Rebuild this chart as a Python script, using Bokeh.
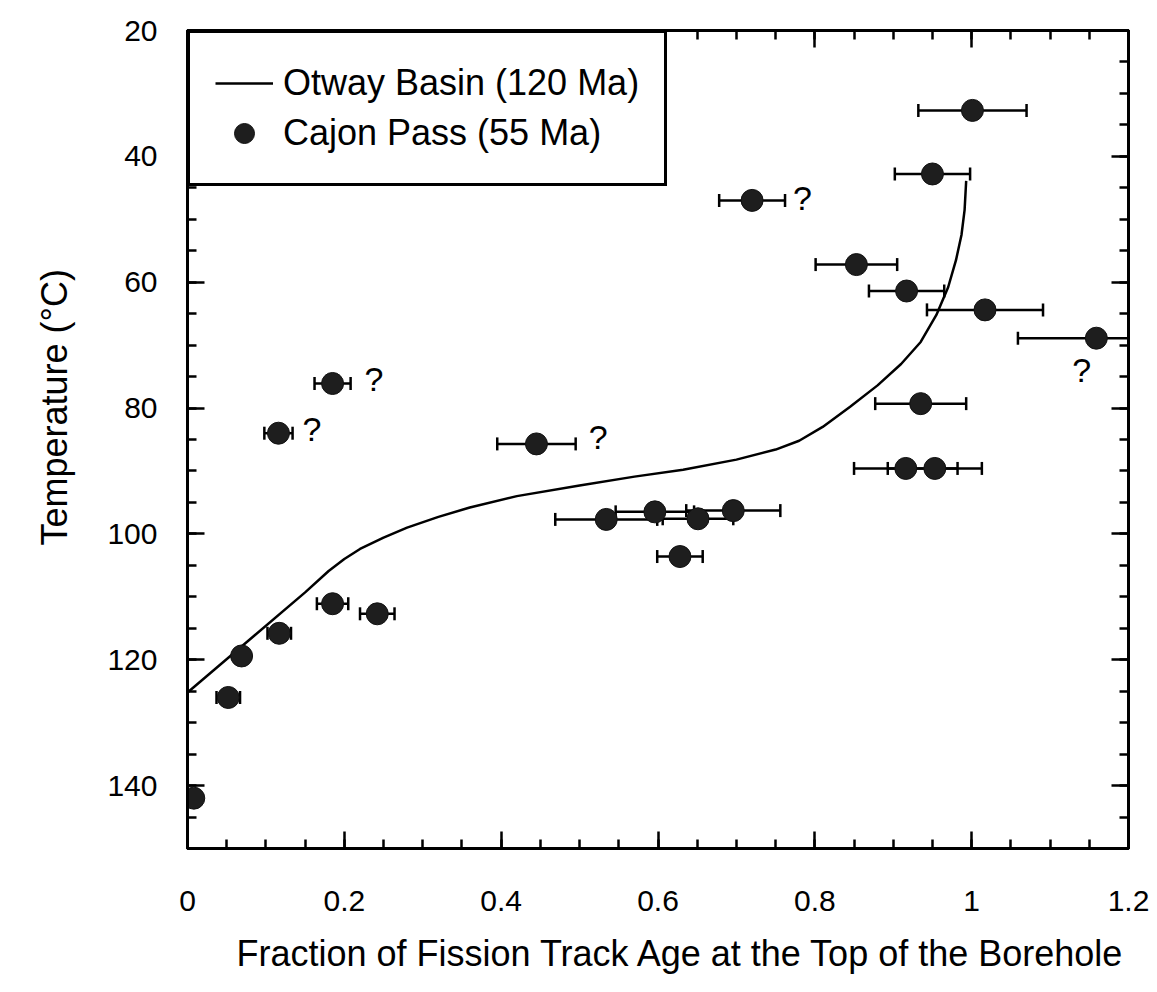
from bokeh.plotting import figure
from bokeh.models import (Range1d, LinearAxis, FixedTicker, Legend, LegendItem,
                          Title, CustomJSTickFormatter)
from bokeh.embed import file_html
from bokeh.resources import INLINE
from bokeh.core.properties import value

# ---------------- data ----------------
# Otway Basin (120 Ma) model curve
otway_frac = [0.0, 0.085, 0.15, 0.18, 0.20, 0.22, 0.25, 0.28, 0.32, 0.36, 0.42, 0.50,
              0.57, 0.632, 0.70, 0.75, 0.78, 0.81, 0.845, 0.88, 0.91, 0.935, 0.955,
              0.97, 0.98, 0.987, 0.991, 0.993]
otway_temp = [125.2, 116.2, 109.3, 105.9, 104.0, 102.4, 100.6, 99.0, 97.3, 95.8, 94.0,
              92.3, 90.9, 89.8, 88.2, 86.6, 85.2, 83.0, 79.8, 76.4, 73.0, 69.5, 65.2,
              60.8, 56.5, 52.5, 48.5, 43.9]

# Cajon Pass (55 Ma) samples
cajon_frac = [1.001, 0.950, 0.720, 0.853, 0.917, 1.017, 1.159, 0.185, 0.935, 0.116,
              0.445, 0.916, 0.953, 0.596, 0.696, 0.534, 0.651, 0.628, 0.185, 0.242,
              0.117, 0.069, 0.052, 0.008]
cajon_temp = [32.7, 42.8, 47.0, 57.2, 61.4, 64.4, 68.9, 76.1, 79.3, 84.0,
              85.7, 89.6, 89.6, 96.5, 96.3, 97.7, 97.6, 103.6, 111.1, 112.7,
              115.8, 119.4, 126.0, 142.0]
cajon_err = [0.069, 0.048, 0.042, 0.052, 0.048, 0.074, 0.100, 0.023, 0.058, 0.018,
             0.050, 0.066, 0.060, 0.050, 0.060, 0.065, 0.045, 0.029, 0.020, 0.022,
             0.015, 0.008, 0.015, 0.0]

# questionable samples, marked with "?"
query_idx = [2, 6, 7, 9, 10]
query_at_bar_end = [True, False, True, True, True]
query_dx = [8, -24, 14, 10, 13]      # px
query_dy = [-2, 32, -4, -4, -7]      # px

x_ticks = [0, 0.2, 0.4, 0.6, 0.8, 1.0, 1.2]
x_tick_labels = ["0", "0.2", "0.4", "0.6", "0.8", "1", "1.2"]
y_ticks = [20, 40, 60, 80, 100, 120, 140]
y_tick_labels = ["20", "40", "60", "80", "100", "120", "140"]

x_title = "Fraction of Fission Track Age at the Top of the Borehole"
y_title = "Temperature (°C)"

FONT = "Liberation Sans"

# ---------------- figure ----------------
p = figure(frame_width=941, frame_height=818,
           x_range=Range1d(0, 1.2), y_range=Range1d(150, 20),
           output_backend="svg", toolbar_location=None,
           min_border_left=187, min_border_right=29,
           min_border_top=30, min_border_bottom=144,
           background_fill_color="white", border_fill_color="white")
p.xgrid.visible = False
p.ygrid.visible = False
p.outline_line_color = "black"
p.outline_line_width = 3

x_minor = [round(0.05 * i, 2) for i in range(25)]
y_minor = list(range(20, 151, 5))


def style_axis(ax, ticks, minor, labels):
    ax.ticker = FixedTicker(ticks=ticks, minor_ticks=minor)
    ax.axis_line_color = "black"
    ax.axis_line_width = 3
    ax.major_tick_in = 17
    ax.major_tick_out = 0
    ax.minor_tick_in = 9
    ax.minor_tick_out = 0
    ax.major_tick_line_width = 2.5
    ax.minor_tick_line_width = 2.5
    ax.major_tick_line_color = "black"
    ax.minor_tick_line_color = "black"
    ax.major_label_text_font = FONT
    ax.major_label_text_font_size = "30px"
    ax.major_label_text_color = "black"
    if labels is None:
        ax.formatter = CustomJSTickFormatter(code="return ''")
        ax.major_label_standoff = 0
    else:
        ax.major_label_overrides = {t: l for t, l in zip(ticks, labels)}


xa = p.xaxis[0]
ya = p.yaxis[0]
style_axis(xa, x_ticks, x_minor, x_tick_labels)
style_axis(ya, y_ticks, y_minor, y_tick_labels)
xa.major_label_standoff = 42
ya.major_label_standoff = 30

top = LinearAxis()
right = LinearAxis()
style_axis(top, x_ticks, x_minor, None)
style_axis(right, y_ticks, y_minor, None)
p.add_layout(top, "above")
p.add_layout(right, "right")

# axis titles, offset along the axis like the original
p.add_layout(Title(text=x_title, align="left", offset=49, standoff=34,
                   text_font=FONT, text_font_size="36px", text_font_style="normal",
                   text_color="black"), "below")
p.add_layout(Title(text=y_title, align="left", offset=303, standoff=60,
                   text_font=FONT, text_font_size="36px", text_font_style="normal",
                   text_color="black"), "left")

# ---------------- glyphs ----------------
line_r = p.line(otway_frac, otway_temp, line_color="black", line_width=2.5,
                line_join="round")

lo = [f - e for f, e in zip(cajon_frac, cajon_err)]
hi = [f + e for f, e in zip(cajon_frac, cajon_err)]
p.segment(x0=lo, y0=cajon_temp, x1=hi, y1=cajon_temp,
          line_color="black", line_width=2.5)
p.scatter(x=lo + hi, y=cajon_temp + cajon_temp, marker="dash", angle=1.5707963,
          size=13, line_color="black", line_width=2.5)
pts_r = p.scatter(x=cajon_frac, y=cajon_temp, marker="circle", size=22,
                  fill_color="#1e1e1e", line_color="#111111", line_width=1)

qx = [hi[i] if at_end else cajon_frac[i] for i, at_end in zip(query_idx, query_at_bar_end)]
qy = [cajon_temp[i] for i in query_idx]
p.text(x=qx, y=qy, text=["?"] * len(qx), x_offset=query_dx, y_offset=query_dy,
       text_font=value(FONT), text_font_size="34px", text_align="left",
       text_baseline="middle", text_color="black")

legend = Legend(items=[LegendItem(label="Otway Basin (120 Ma)", renderers=[line_r]),
                       LegendItem(label="Cajon Pass (55 Ma)", renderers=[pts_r])],
                location="top_left", margin=0, padding=25, spacing=0,
                glyph_width=58, glyph_height=50, label_height=50, label_standoff=10,
                label_text_font=FONT, label_text_font_size="36px",
                label_text_color="black",
                border_line_color="black", border_line_width=3, border_line_alpha=1,
                background_fill_color="white", background_fill_alpha=1)
p.add_layout(legend)

open("out.html", "w").write(file_html(p, INLINE))
